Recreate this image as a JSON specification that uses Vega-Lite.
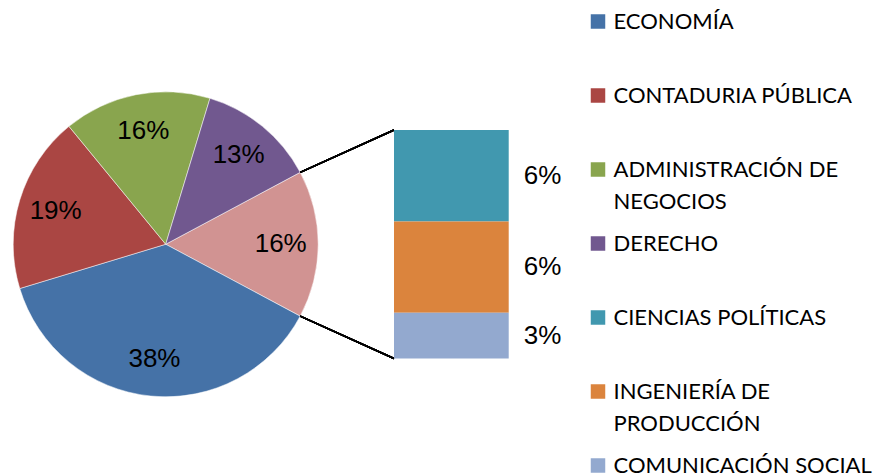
{
  "$schema": "https://vega.github.io/schema/vega-lite/v6.json",
  "width": 880,
  "height": 476,
  "autosize": {"type": "none"},
  "padding": 0,
  "background": "#ffffff",
  "config": {
    "view": {"stroke": null},
    "style": {"guide-label": {"lineHeight": 32.7}},
    "legend": {
      "orient": "none",
      "legendX": 587,
      "legendY": 10.5,
      "padding": 0,
      "symbolType": "square",
      "symbolSize": 210,
      "symbolStrokeWidth": 0,
      "symbolOpacity": 1,
      "labelFont": "Lato",
      "labelFontSize": 22,
      "labelColor": "#000000",
      "labelLimit": 0,
      "labelOffset": 4.5,
      "gridAlign": "all",
      "rowPadding": 19
    }
  },
  "datasets": {
    "carreras": [
      {"carrera": "OTROS", "porcentaje": 0.15625, "grupo": "pastel", "orden": 1},
      {"carrera": "ECONOMÍA", "porcentaje": 0.375, "grupo": "pastel", "orden": 2},
      {"carrera": "CONTADURIA PÚBLICA", "porcentaje": 0.1875, "grupo": "pastel", "orden": 3},
      {"carrera": "ADMINISTRACIÓN DE NEGOCIOS", "porcentaje": 0.15625, "grupo": "pastel", "orden": 4},
      {"carrera": "DERECHO", "porcentaje": 0.125, "grupo": "pastel", "orden": 5},
      {"carrera": "CIENCIAS POLÍTICAS", "porcentaje": 0.0625, "grupo": "barra", "orden": 6},
      {"carrera": "INGENIERÍA DE PRODUCCIÓN", "porcentaje": 0.0625, "grupo": "barra", "orden": 7},
      {"carrera": "COMUNICACIÓN SOCIAL", "porcentaje": 0.03125, "grupo": "barra", "orden": 8}
    ]
  },
  "data": {"name": "carreras"},
  "layer": [
    {
      "transform": [{"filter": "datum.grupo == 'pastel'"}],
      "mark": {"type": "arc", "outerRadius": 152.5, "stroke": "#ffffff", "strokeWidth": 0.5},
      "encoding": {
        "x": {"datum": 0, "type": "quantitative", "scale": {"domain": [-0.11331, 0.48844], "nice": false, "zero": false}, "axis": null},
        "y": {"datum": 0.078125, "type": "quantitative", "scale": {"domain": [-0.080347, 0.245145], "nice": false, "zero": false}, "axis": null},
        "theta": {"field": "porcentaje", "type": "quantitative", "stack": true, "scale": {"range": [1.079922, 7.363107]}},
        "color": {
          "field": "carrera",
          "type": "nominal",
          "scale": {
            "domain": ["ECONOMÍA", "CONTADURIA PÚBLICA", "ADMINISTRACIÓN DE NEGOCIOS", "DERECHO", "CIENCIAS POLÍTICAS", "INGENIERÍA DE PRODUCCIÓN", "COMUNICACIÓN SOCIAL", "OTROS"],
            "range": ["#4572A7", "#AA4643", "#89A54E", "#71588F", "#4198AF", "#DB843D", "#93A9CF", "#D19392"]
          },
          "legend": {
            "title": null,
            "values": ["ECONOMÍA", "CONTADURIA PÚBLICA", "ADMINISTRACIÓN DE NEGOCIOS", "DERECHO", "CIENCIAS POLÍTICAS", "INGENIERÍA DE PRODUCCIÓN", "COMUNICACIÓN SOCIAL"],
            "labelExpr": "datum.label == 'ADMINISTRACIÓN DE NEGOCIOS' ? ['ADMINISTRACIÓN DE', 'NEGOCIOS'] : datum.label == 'INGENIERÍA DE PRODUCCIÓN' ? ['INGENIERÍA DE', 'PRODUCCIÓN'] : datum.label"
          }
        },
        "order": {"field": "orden", "type": "quantitative"}
      }
    },
    {
      "transform": [{"filter": "datum.grupo == 'pastel'"}],
      "mark": {"type": "text", "radius": 115, "font": "Liberation Sans", "fontSize": 26, "color": "#000000", "align": "center", "baseline": "middle"},
      "encoding": {
        "x": {"datum": 0, "type": "quantitative", "scale": {"domain": [-0.11331, 0.48844], "nice": false, "zero": false}, "axis": null},
        "y": {"datum": 0.078125, "type": "quantitative", "scale": {"domain": [-0.080347, 0.245145], "nice": false, "zero": false}, "axis": null},
        "theta": {"field": "porcentaje", "type": "quantitative", "stack": true},
        "detail": {"field": "carrera", "type": "nominal"},
        "order": {"field": "orden", "type": "quantitative"},
        "text": {"field": "porcentaje", "type": "quantitative", "format": ".0%"}
      }
    },
    {
      "mark": {"type": "rule", "color": "#000000", "strokeWidth": 1.5},
      "encoding": {
        "x": {"datum": 0.091967, "type": "quantitative", "scale": {"domain": [-0.11331, 0.48844], "nice": false, "zero": false}, "axis": null},
        "y": {"datum": 0.127283, "type": "quantitative", "scale": {"domain": [-0.080347, 0.245145], "nice": false, "zero": false}, "axis": null},
        "x2": {"datum": 0.15611},
        "y2": {"datum": 0.15625}
      }
    },
    {
      "mark": {"type": "rule", "color": "#000000", "strokeWidth": 1.5},
      "encoding": {
        "x": {"datum": 0.091967, "type": "quantitative", "scale": {"domain": [-0.11331, 0.48844], "nice": false, "zero": false}, "axis": null},
        "y": {"datum": 0.028967, "type": "quantitative", "scale": {"domain": [-0.080347, 0.245145], "nice": false, "zero": false}, "axis": null},
        "x2": {"datum": 0.15611},
        "y2": {"datum": 0}
      }
    },
    {
      "transform": [
        {"filter": "datum.grupo == 'barra'"},
        {"stack": "porcentaje", "groupby": [], "sort": [{"field": "orden", "order": "descending"}], "as": ["y0", "y1"]},
        {"calculate": "(datum.y0 + datum.y1) / 2", "as": "ymedio"}
      ],
      "layer": [
        {
          "mark": {"type": "bar"},
          "encoding": {
            "x": {"datum": 0.15611, "type": "quantitative", "scale": {"domain": [-0.11331, 0.48844], "nice": false, "zero": false}, "axis": null},
            "x2": {"datum": 0.23455},
            "y": {"field": "y0", "type": "quantitative", "stack": null, "scale": {"domain": [-0.080347, 0.245145], "nice": false, "zero": false}, "axis": null},
            "y2": {"field": "y1"},
            "color": {
              "field": "carrera",
              "type": "nominal",
              "scale": {
                "domain": ["ECONOMÍA", "CONTADURIA PÚBLICA", "ADMINISTRACIÓN DE NEGOCIOS", "DERECHO", "CIENCIAS POLÍTICAS", "INGENIERÍA DE PRODUCCIÓN", "COMUNICACIÓN SOCIAL", "OTROS"],
                "range": ["#4572A7", "#AA4643", "#89A54E", "#71588F", "#4198AF", "#DB843D", "#93A9CF", "#D19392"]
              },
              "legend": {
                "title": null,
                "values": ["ECONOMÍA", "CONTADURIA PÚBLICA", "ADMINISTRACIÓN DE NEGOCIOS", "DERECHO", "CIENCIAS POLÍTICAS", "INGENIERÍA DE PRODUCCIÓN", "COMUNICACIÓN SOCIAL"],
                "labelExpr": "datum.label == 'ADMINISTRACIÓN DE NEGOCIOS' ? ['ADMINISTRACIÓN DE', 'NEGOCIOS'] : datum.label == 'INGENIERÍA DE PRODUCCIÓN' ? ['INGENIERÍA DE', 'PRODUCCIÓN'] : datum.label"
              }
            }
          }
        },
        {
          "mark": {"type": "text", "font": "Liberation Sans", "fontSize": 26, "color": "#000000", "align": "left", "baseline": "middle"},
          "encoding": {
            "x": {"datum": 0.2448, "type": "quantitative", "scale": {"domain": [-0.11331, 0.48844], "nice": false, "zero": false}, "axis": null},
            "y": {"field": "ymedio", "type": "quantitative", "scale": {"domain": [-0.080347, 0.245145], "nice": false, "zero": false}, "axis": null},
            "text": {"field": "porcentaje", "type": "quantitative", "format": ".0%"}
          }
        }
      ]
    }
  ]
}
